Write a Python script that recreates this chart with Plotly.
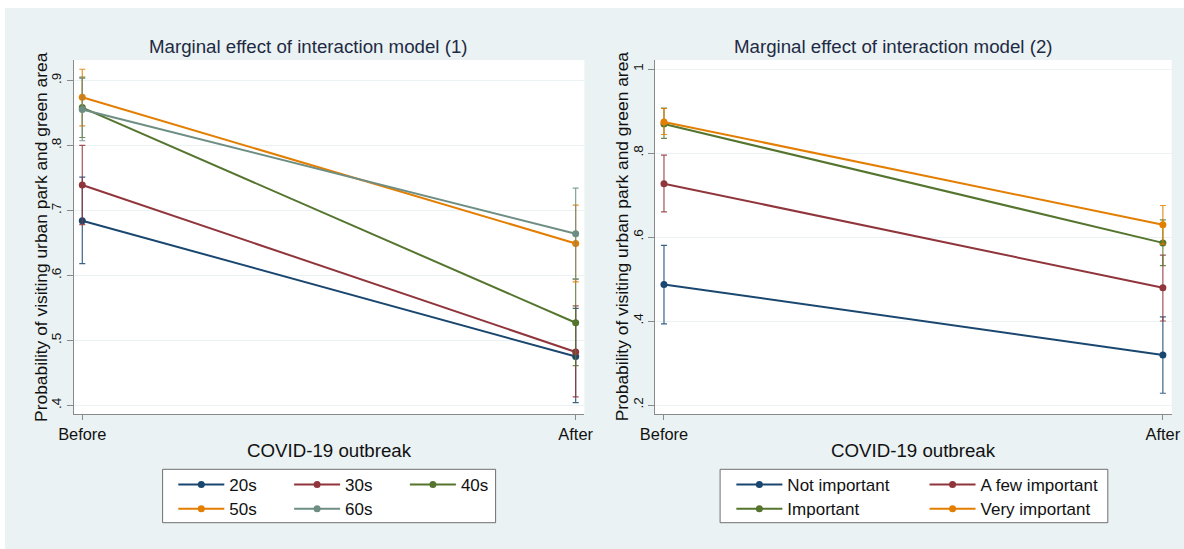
import plotly.graph_objects as go

# ---------------- data ----------------
periods = ["Before", "After"]

# Model (1): age groups
age_labels = ["20s", "30s", "40s", "50s", "60s"]
age_before = [0.684, 0.739, 0.858, 0.874, 0.855]
age_before_lo = [0.618, 0.678, 0.812, 0.830, 0.807]
age_before_hi = [0.751, 0.800, 0.905, 0.917, 0.903]
age_after = [0.475, 0.482, 0.527, 0.649, 0.664]
age_after_lo = [0.404, 0.413, 0.461, 0.590, 0.594]
age_after_hi = [0.549, 0.553, 0.594, 0.708, 0.734]

# Model (2): importance
imp_labels = ["Not important", "A few important", "Important", "Very important"]
imp_before = [0.487, 0.727, 0.869, 0.874]
imp_before_lo = [0.393, 0.660, 0.835, 0.844]
imp_before_hi = [0.580, 0.795, 0.907, 0.906]
imp_after = [0.319, 0.479, 0.586, 0.629]
imp_after_lo = [0.228, 0.400, 0.532, 0.583]
imp_after_hi = [0.410, 0.557, 0.641, 0.675]

y1_ticks = [0.4, 0.5, 0.6, 0.7, 0.8, 0.9]
y1_ticktext = [".4", ".5", ".6", ".7", ".8", ".9"]
y2_ticks = [0.2, 0.4, 0.6, 0.8, 1.0]
y2_ticktext = [".2", ".4", ".6", ".8", "1"]

colors = ["#1a476f", "#90353b", "#55752f", "#e37e00", "#6e8e84"]
ci_colors = ["rgba(26,71,111,0.85)", "rgba(144,53,59,0.85)", "rgba(85,117,47,0.85)",
             "rgba(227,126,0,0.85)", "rgba(110,142,132,0.85)"]

# ---------------- layout helpers ----------------
W, H = 1184, 549
FONT = "Liberation Sans, Arial, Helvetica, sans-serif"


def px(x):
    return x / W


def py(y):
    return 1 - y / H


fig = go.Figure()


def add_series(labels, before, blo, bhi, after, alo, ahi, xa, ya, legends):
    for i, name in enumerate(labels):
        vals = [before[i], after[i]]
        lo = [blo[i], alo[i]]
        hi = [bhi[i], ahi[i]]
        fig.add_trace(go.Scatter(
            x=periods, y=vals, name=name, mode="lines+markers",
            line=dict(color=colors[i], width=2),
            marker=dict(color=colors[i], size=7),
            error_y=dict(type="data", symmetric=False,
                         array=[h - v for h, v in zip(hi, vals)],
                         arrayminus=[v - l for l, v in zip(lo, vals)],
                         color=ci_colors[i], thickness=1.2, width=3),
            xaxis=xa, yaxis=ya, legend=legends[i],
        ))


add_series(age_labels, age_before, age_before_lo, age_before_hi,
           age_after, age_after_lo, age_after_hi, "x", "y",
           ["legend", "legend", "legend", "legend2", "legend2"])
add_series(imp_labels, imp_before, imp_before_lo, imp_before_hi,
           imp_after, imp_after_lo, imp_after_hi, "x2", "y2",
           ["legend3", "legend3", "legend4", "legend4"])

axis_line = "#8a8a8a"
grid = "#eaf2f3"
xcommon = dict(type="category", range=[-0.0178, 1.0177], showline=True, linecolor=axis_line,
               linewidth=1, ticks="outside", ticklen=5, tickcolor=axis_line, showgrid=False,
               zeroline=False, automargin=False, tickfont=dict(size=16.4, color="#111", family=FONT),
               fixedrange=True)
ycommon = dict(showline=True, linecolor=axis_line, linewidth=1, ticks="outside", ticklen=6,
               tickcolor=axis_line, showgrid=True, gridcolor=grid, gridwidth=1, zeroline=False,
               automargin=False, tickangle=-90, tickfont=dict(size=13.5, color="#111", family=FONT),
               fixedrange=True)

fig.update_layout(
    width=W, height=H,
    margin=dict(l=0, r=0, t=0, b=0, pad=0),
    paper_bgcolor="#eaf2f3", plot_bgcolor="white",
    font=dict(family=FONT, color="#111"),
    xaxis=dict(domain=[px(73.5), px(584.4)], anchor="y", **xcommon),
    yaxis=dict(domain=[py(414), py(60)], anchor="x", range=[0.38662, 0.93123],
               tickvals=y1_ticks, ticktext=y1_ticktext, **ycommon),
    xaxis2=dict(domain=[px(655.1), px(1171.7)], anchor="y2", **xcommon),
    yaxis2=dict(domain=[py(414), py(60)], anchor="x2", range=[0.17857, 1.02143],
                tickvals=y2_ticks, ticktext=y2_ticktext, **ycommon),
    showlegend=True,
)

leg_common = dict(orientation="h", xanchor="left", yanchor="middle", bgcolor="rgba(0,0,0,0)",
                  borderwidth=0, itemwidth=46, entrywidthmode="pixels",
                  font=dict(size=17, family=FONT, color="#111"), itemclick=False,
                  itemdoubleclick=False)
fig.update_layout(
    legend=dict(x=px(173.3), y=py(485), entrywidth=54.8, **leg_common),
    legend2=dict(x=px(173.3), y=py(509.3), entrywidth=54.8, **leg_common),
    legend3=dict(x=px(731.35), y=py(485), entrywidth=132.2, **leg_common),
    legend4=dict(x=px(731.35), y=py(509.3), entrywidth=132.2, **leg_common),
)

shapes = [
    # white outer strips (top and left)
    dict(type="rect", xref="paper", yref="paper", x0=0, x1=1, y0=py(8), y1=1,
         fillcolor="white", line=dict(width=0), layer="below"),
    dict(type="rect", xref="paper", yref="paper", x0=0, x1=px(5), y0=0, y1=1,
         fillcolor="white", line=dict(width=0), layer="below"),
    # legend boxes
    dict(type="rect", xref="paper", yref="paper", x0=px(162.6), x1=px(495.6),
         y0=py(522.7), y1=py(469.3), fillcolor="white",
         line=dict(color="#6f6f6f", width=1), layer="above"),
    dict(type="rect", xref="paper", yref="paper", x0=px(720.1), x1=px(1107.8),
         y0=py(522.7), y1=py(469.3), fillcolor="white",
         line=dict(color="#6f6f6f", width=1), layer="above"),
]
fig.update_layout(shapes=shapes)

title_font = dict(size=18.7, family=FONT, color="#1f2a44")
axis_title_font = dict(size=18.7, family=FONT, color="#111")
annotations = [
    dict(text="Marginal effect of interaction model (1)", x=px(308), y=py(46),
         xref="paper", yref="paper", showarrow=False, font=title_font,
         xanchor="center", yanchor="middle"),
    dict(text="Marginal effect of interaction model (2)", x=px(893), y=py(46),
         xref="paper", yref="paper", showarrow=False, font=title_font,
         xanchor="center", yanchor="middle"),
    dict(text="COVID-19 outbreak", x=px(329), y=py(450), xref="paper", yref="paper",
         showarrow=False, font=axis_title_font, xanchor="center", yanchor="middle"),
    dict(text="COVID-19 outbreak", x=px(913.4), y=py(450), xref="paper", yref="paper",
         showarrow=False, font=axis_title_font, xanchor="center", yanchor="middle"),
    dict(text="Probability of visiting urban park and green area", x=px(40.2), y=py(236.7),
         xref="paper", yref="paper", showarrow=False, textangle=-90,
         font=dict(size=17.4, family=FONT, color="#111"), xanchor="center", yanchor="middle"),
    dict(text="Probability of visiting urban park and green area", x=px(621.6), y=py(236.7),
         xref="paper", yref="paper", showarrow=False, textangle=-90,
         font=dict(size=17.4, family=FONT, color="#111"), xanchor="center", yanchor="middle"),
]
fig.update_layout(annotations=annotations)

# remove the default page margin so the figure fills the window exactly
fig.write_html("out.html", config=dict(displayModeBar=False),
               post_script="document.body.style.margin='0';"
                           "document.body.style.overflow='hidden';")
